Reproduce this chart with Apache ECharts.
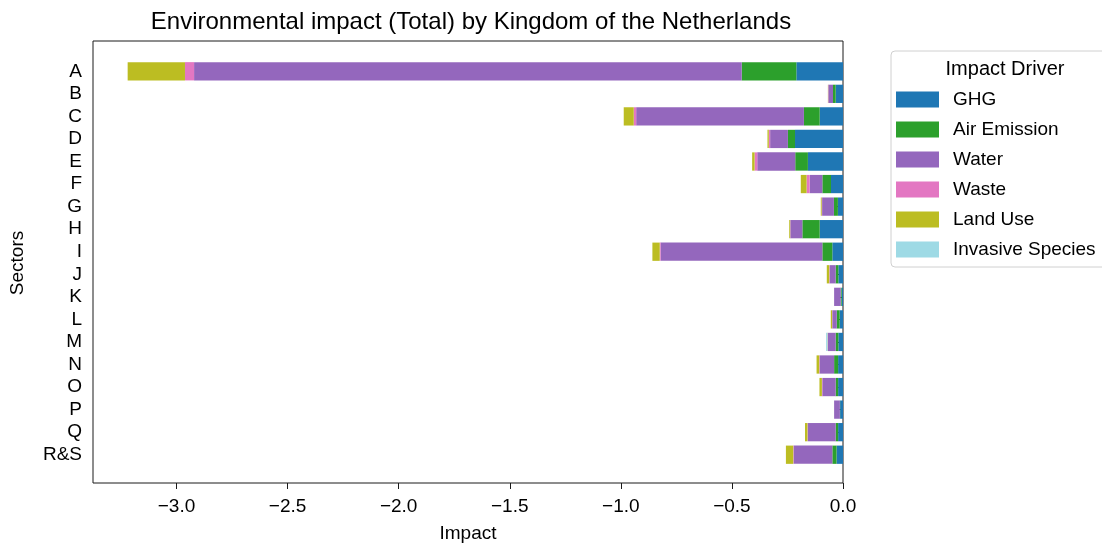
<!DOCTYPE html>
<html>
<head>
<meta charset="utf-8">
<title>Environmental impact (Total) by Kingdom of the Netherlands</title>
<script src="https://cdn.jsdelivr.net/npm/echarts@6/dist/echarts.min.js"></script>
<style>
  html, body { margin: 0; padding: 0; background: #fff; }
  #chart { width: 1102px; height: 544px; }
</style>
</head>
<body>
<div id="chart"></div>
<script>
// Sectors, top to bottom
const sectors = ['A', 'B', 'C', 'D', 'E', 'F', 'G', 'H', 'I', 'J', 'K', 'L', 'M', 'N', 'O', 'P', 'Q', 'R&S'];

// Impact per driver and sector (negative = damage)
const ghg        = [-0.210, -0.033, -0.105, -0.216, -0.158, -0.054, -0.023, -0.105, -0.048, -0.021, -0.006, -0.015, -0.021, -0.022, -0.022, -0.013, -0.022, -0.029];
const airEmission = [-0.246, -0.012, -0.071, -0.032, -0.057, -0.039, -0.018, -0.078, -0.045, -0.012, -0.004, -0.013, -0.012, -0.018, -0.011, -0.001, -0.011, -0.019];
const water      = [-2.465, -0.021, -0.755, -0.080, -0.171, -0.057, -0.053, -0.054, -0.728, -0.027, -0.030, -0.020, -0.035, -0.065, -0.060, -0.026, -0.125, -0.174];
const waste      = [-0.041, -0.001, -0.011, -0.006, -0.012, -0.014, -0.002, -0.001, -0.004, -0.002, 0.000, -0.001, -0.001, -0.002, -0.002, 0.000, -0.002, -0.002];
const landUse    = [-0.258, -0.001, -0.045, -0.006, -0.011, -0.026, -0.004, -0.004, -0.033, -0.011, 0.000, -0.006, -0.001, -0.012, -0.011, 0.000, -0.011, -0.033];
const invasive   = [0.000, 0.000, 0.000, 0.000, 0.000, 0.000, 0.000, 0.000, 0.000, 0.000, 0.000, 0.000, -0.006, 0.000, 0.000, 0.000, 0.000, 0.000];

// Impact axis
const xTicks = [-3.0, -2.5, -2.0, -1.5, -1.0, -0.5, 0.0];
const xMin = -3.376;
const xMax = 0;

const drivers = [
  { name: 'GHG', data: ghg, color: '#1f77b4' },
  { name: 'Air Emission', data: airEmission, color: '#2ca02c' },
  { name: 'Water', data: water, color: '#9467bd' },
  { name: 'Waste', data: waste, color: '#e377c2' },
  { name: 'Land Use', data: landUse, color: '#bcbd22' },
  { name: 'Invasive Species', data: invasive, color: '#9edae5' }
];

const FONT = "'Liberation Sans', Arial, Helvetica, sans-serif";
const fmt = v => (v < 0 ? '\u2212' : '') + Math.abs(v).toFixed(1);

const chart = echarts.init(document.getElementById('chart'), null, { renderer: 'canvas' });

chart.setOption({
  animation: false,
  textStyle: { fontFamily: FONT, color: '#000' },
  title: [
    {
      text: 'Environmental impact (Total) by Kingdom of the Netherlands',
      left: 466, top: 5, textAlign: 'center',
      textStyle: { fontFamily: FONT, fontSize: 24, fontWeight: 'normal', color: '#000' }
    },
    {
      text: 'Impact Driver',
      left: 1000, top: 54, textAlign: 'center',
      textStyle: { fontFamily: FONT, fontSize: 20, fontWeight: 'normal', color: '#000' }
    }
  ],
  legend: {
    orient: 'vertical',
    left: 891, top: 51,
    padding: [39, 12, 8, 5],
    itemWidth: 43, itemHeight: 16, itemGap: 11,
    icon: 'rect',
    borderColor: '#d0d0d0', borderWidth: 1, borderRadius: 4,
    backgroundColor: '#fff',
    textStyle: { fontFamily: FONT, fontSize: 19, color: '#000', padding: [0, 0, 0, 9] },
    data: drivers.map(d => d.name)
  },
  grid: [
    // frame of the plot area
    { left: 93, top: 41, width: 750, height: 442, outerBoundsMode: 'none', containLabel: false,
      show: true, borderColor: '#1a1a1a', borderWidth: 1, backgroundColor: 'transparent' },
    // bar area (inset to leave the vertical margin)
    { left: 93, top: 60, width: 750, height: 406, outerBoundsMode: 'none', containLabel: false }
  ],
  xAxis: [
    {
      gridIndex: 0, type: 'value', min: xMin, max: xMax,
      name: 'Impact', nameLocation: 'middle', nameGap: 41,
      nameTextStyle: { fontFamily: FONT, fontSize: 19, color: '#000' },
      axisLine: { show: false },
      axisTick: { show: true, length: 6, customValues: xTicks, lineStyle: { color: '#1a1a1a' } },
      axisLabel: { customValues: xTicks, formatter: fmt, fontFamily: FONT, fontSize: 19, color: '#000', margin: 14 },
      splitLine: { show: false }
    },
    { gridIndex: 1, type: 'value', min: xMin, max: xMax, show: false, splitLine: { show: false } }
  ],
  yAxis: [
    { gridIndex: 0, type: 'value', min: 0, max: 1, show: false, splitLine: { show: false } },
    {
      gridIndex: 1, type: 'category', data: sectors, inverse: true,
      name: 'Sectors', nameLocation: 'middle', nameGap: 66, nameRotate: 90,
      nameTextStyle: { fontFamily: FONT, fontSize: 19, color: '#000' },
      axisLine: { show: false },
      axisTick: { show: true, length: 6, alignWithLabel: true, lineStyle: { color: '#1a1a1a' } },
      axisLabel: { fontFamily: FONT, fontSize: 19, color: '#000', margin: 11, interval: 0 }
    }
  ],
  series: drivers.map(d => ({
    name: d.name,
    type: 'bar',
    stack: 'total',
    xAxisIndex: 1,
    yAxisIndex: 1,
    barWidth: '81%',
    itemStyle: { color: d.color },
    data: d.data
  }))
});
</script>
</body>
</html>
